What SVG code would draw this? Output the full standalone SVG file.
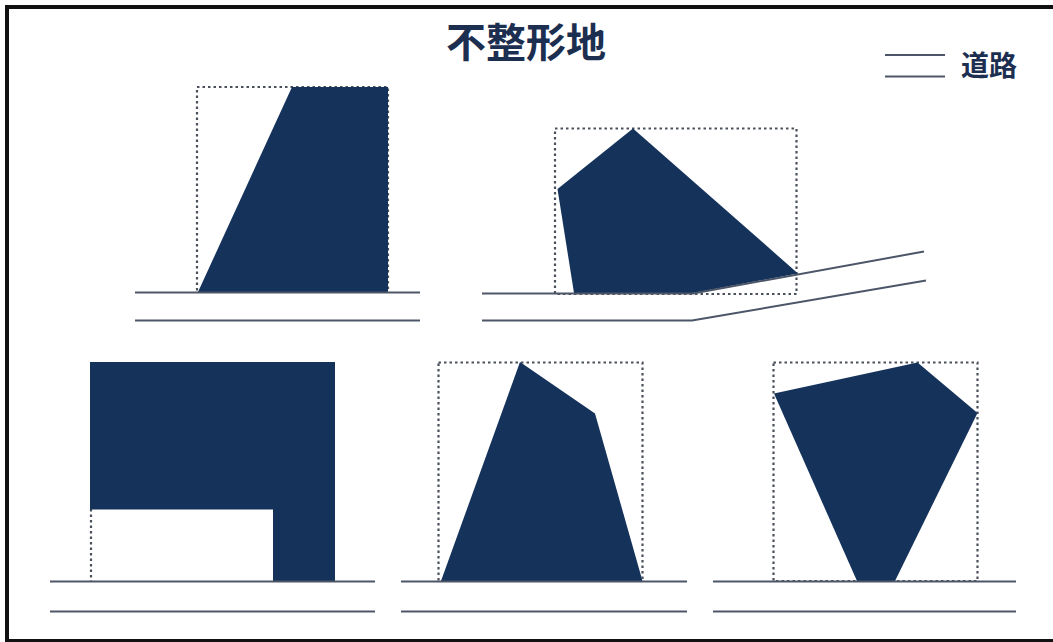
<svg xmlns="http://www.w3.org/2000/svg" width="1053" height="642" viewBox="0 0 1053 642">
<style>
.lot{fill:#14325a;stroke:none}
.road{stroke:#4c5668;stroke-width:2;fill:none}
.dash{stroke:#4a505a;stroke-width:2.2;stroke-dasharray:2.5 3;fill:none}
.t{font-family:"Noto Sans CJK JP","Noto Sans CJK SC",sans-serif;font-weight:bold;fill:#1d2f50}
</style>
<rect x="0" y="0" width="1053" height="642" fill="#ffffff"/>
<rect x="7" y="7" width="1060" height="634" fill="none" stroke="#111" stroke-width="4"/>
<text class="t" x="526" y="57" font-size="40" text-anchor="middle">不整形地</text>
<g id="legend">
<line class="road" x1="885" y1="55" x2="945" y2="55"/>
<line class="road" x1="885" y1="76.5" x2="945" y2="76.5"/>
<text class="t" x="961" y="76" font-size="28">道路</text>
</g>
<g id="lot1">
<rect class="dash" x="197" y="87" width="191" height="205"/>
<polygon class="lot" points="292,87 388,87 388,292 198,292"/>
<line class="road" x1="135" y1="292.5" x2="420" y2="292.5"/>
<line class="road" x1="135" y1="320.5" x2="420" y2="320.5"/>
</g>
<g id="lot2">
<rect class="dash" x="555" y="128.5" width="241.5" height="165.5"/>
<polygon class="lot" points="633,128.5 798,273.5 693,293 574,293 557.5,189"/>
<polyline class="road" points="482,293.5 693,293.5 924,251.5"/>
<polyline class="road" points="482,320.5 692,320.5 926,280.5"/>
</g>
<g id="lot3">
<line class="dash" x1="91" y1="509" x2="91" y2="581"/>
<polygon class="lot" points="90,362 335,362 335,581 273,581 273,509.5 90,509.5"/>
<line class="road" x1="50" y1="581.5" x2="375" y2="581.5"/>
<line class="road" x1="50" y1="611.5" x2="375" y2="611.5"/>
</g>
<g id="lot4">
<rect class="dash" x="438.5" y="362.5" width="204" height="218.5"/>
<polygon class="lot" points="520,362 595,413.5 642.5,581 441,581"/>
<line class="road" x1="401" y1="581.5" x2="687" y2="581.5"/>
<line class="road" x1="401" y1="611.5" x2="687" y2="611.5"/>
</g>
<g id="lot5">
<rect class="dash" x="773.5" y="362.5" width="204" height="218.5"/>
<polygon class="lot" points="774,393.5 917.5,362.5 977.5,413 895,581 857,581"/>
<line class="road" x1="713" y1="581.5" x2="1016" y2="581.5"/>
<line class="road" x1="713" y1="611.5" x2="1016" y2="611.5"/>
</g>
</svg>
